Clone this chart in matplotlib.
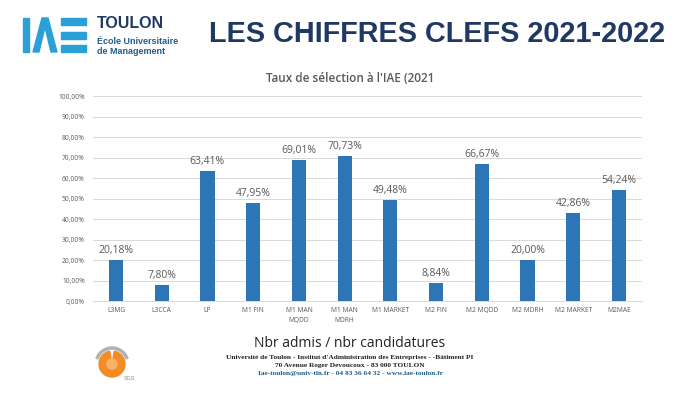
import numpy as np
import matplotlib.pyplot as plt
from matplotlib.patches import Rectangle, Polygon, Circle, Wedge

# données du graphique
categories = ['L3MG', 'L3CCA', 'LP', 'M1 FIN', 'M1 MAN\nMQDD', 'M1 MAN\nMDRH',
              'M1 MARKET', 'M2 FIN', 'M2 MQDD', 'M2 MDRH', 'M2 MARKET', 'M2MAE']
taux = [20.18, 7.80, 63.41, 47.95, 69.01, 70.73, 49.48, 8.84, 66.67, 20.00, 42.86, 54.24]
yticks = np.arange(0, 101, 10)

navy = '#1f3864'
bleu = '#2e75b6'
gris = '#595959'

fig = plt.figure(figsize=(7, 3.94), dpi=100)
fig.patch.set_facecolor('white')

ax = fig.add_axes([0.133, 0.236, 0.784, 0.520])
x = np.arange(len(categories))
bars = ax.bar(x, taux, width=0.31, color=bleu, zorder=3)
for xi, v in zip(x, taux):
    ax.text(xi, v + 2, f'{v:.2f}%'.replace('.', ','), ha='center', va='bottom',
            fontsize=7.5, color=gris, family='Open Sans')

ax.set_xlim(-0.5, len(categories) - 0.5)
ax.set_ylim(0, 100)
ax.set_yticks(yticks)
ax.set_yticklabels([f'{t:.2f}%'.replace('.', ',') for t in yticks],
                   fontsize=4.8, color=gris, family='Open Sans')
ax.set_xticks(x)
ax.set_xticklabels([])
# étiquettes de catégories centrées ligne par ligne
for xi, cat in zip(x, categories):
    ax.text(xi, -0.03, cat, transform=ax.get_xaxis_transform(), ha='center',
            va='top', multialignment='center', fontsize=4.8, color=gris,
            family='Open Sans', linespacing=1.6)
ax.tick_params(length=0, pad=6)
ax.grid(axis='y', color='#d9d9d9', linewidth=0.7, zorder=0)
for s in ['top', 'right', 'left']:
    ax.spines[s].set_visible(False)
ax.spines['bottom'].set_color('#d9d9d9')
ax.spines['bottom'].set_linewidth(0.7)

# titres
fig.text(0.624, 0.913, 'LES CHIFFRES CLEFS 2021-2022', ha='center', va='center',
         fontsize=20.8, fontweight='bold', color=navy, family='Liberation Sans')
fig.text(0.5, 0.80, "Taux de sélection à l'IAE (2021", ha='center', va='center',
         fontsize=8.5, fontweight='semibold', color=gris, family='Open Sans')
fig.text(0.5, 0.128, 'Nbr admis / nbr candidatures', ha='center', va='center',
         fontsize=10, color='#222222', family='Open Sans')

# logo IAE
lb = '#2a9fd8'
fig.add_artist(Rectangle((23 / 700, 1 - 52 / 394), 6 / 700, 34 / 394,
                         transform=fig.transFigure, color=lb))
fig.add_artist(Polygon([(33 / 700, 1 - 52 / 394), (42 / 700, 1 - 18 / 394),
                        (48 / 700, 1 - 18 / 394), (57 / 700, 1 - 52 / 394),
                        (51 / 700, 1 - 52 / 394), (45 / 700, 1 - 27 / 394),
                        (39 / 700, 1 - 52 / 394)],
                       closed=True, transform=fig.transFigure, color=lb))
for yy in [18, 32, 45]:
    fig.add_artist(Rectangle((61 / 700, 1 - (yy + 7) / 394), 25 / 700, 7 / 394,
                             transform=fig.transFigure, color=lb))
fig.text(97 / 700, 1 - 23 / 394, 'TOULON', ha='left', va='center', fontsize=11.5,
         fontweight='bold', color=navy, family='Liberation Sans')
fig.text(97 / 700, 1 - 41 / 394, 'École Universitaire', ha='left', va='center',
         fontsize=6.5, fontweight='bold', color='#1f5f8b', family='Liberation Sans')
fig.text(97 / 700, 1 - 51 / 394, 'de Management', ha='left', va='center',
         fontsize=6.5, fontweight='bold', color='#1f5f8b', family='Liberation Sans')

# logo SGS
fig.add_artist(Wedge((112, 394 - 364), 13, 100, 440, width=7,
                     transform=None, color='#f28c28'))
fig.add_artist(Circle((112, 394 - 364), 5, transform=None, color='#f7b267'))
fig.add_artist(Wedge((112, 394 - 364), 17, 20, 160, width=2,
                     transform=None, color='#b0b0b0'))
fig.text(124 / 700, 1 - 379 / 394, 'SGS', fontsize=4, color='#888888',
         family='Liberation Sans', ha='left', va='center')

# pied de page
fig.text(0.5, 1 - 358 / 394,
         "Université de Toulon - Institut d'Administration des Entreprises - -Bâtiment PI",
         ha='center', va='center', fontsize=5.3, fontweight='bold',
         color='#222222', family='Liberation Serif')
fig.text(0.5, 1 - 366 / 394, '70 Avenue Roger Devoucoux - 83 000 TOULON',
         ha='center', va='center', fontsize=5.3, fontweight='bold',
         color='#222222', family='Liberation Serif')
fig.text(0.5, 1 - 374 / 394, 'Iae-toulon@univ-tln.fr - 04 83 36 64 32 - www.iae-toulon.fr',
         ha='center', va='center', fontsize=5.3, fontweight='bold',
         color='#1f5f8b', family='Liberation Serif')

fig.savefig('out.png', dpi=100)
